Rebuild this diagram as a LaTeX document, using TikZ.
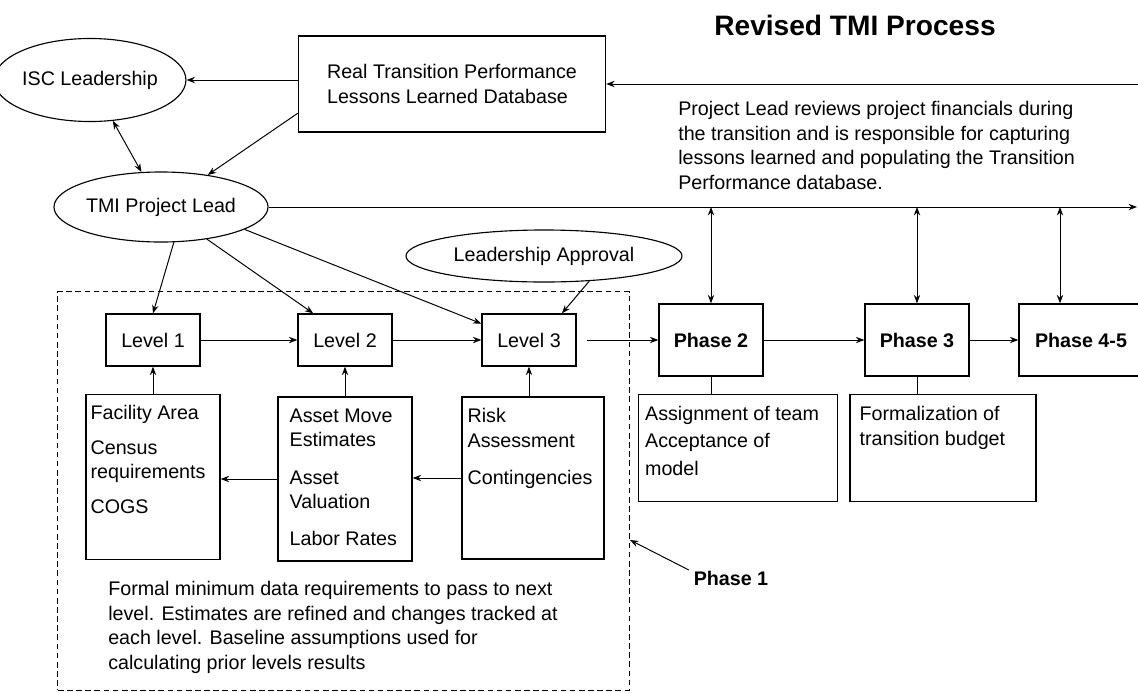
\documentclass[tikz,border=0pt]{standalone}
\usepackage{fontspec}
\setmainfont{Liberation Sans}
\usepackage{tikz}
\usetikzlibrary{shapes.geometric, arrows.meta, positioning, calc}
\tikzset{
  oval/.style={ellipse, draw, line width=0.8pt, inner sep=0pt},
  levelbox/.style={rectangle, draw, line width=0.9pt,
    minimum width=2.35cm, minimum height=1.3cm},
  phasebox/.style={rectangle, draw, line width=0.9pt,
    minimum width=2.6cm, minimum height=1.8cm,
    font=\fontsize{14}{17.5}\selectfont\bfseries},
  listbox/.style={rectangle, draw, line width=0.9pt},
  listtext/.style={align=left, inner sep=0pt},
  groupbox/.style={rectangle, draw, line width=0.7pt, dash pattern=on 4pt off 2.5pt},
  arrow/.style={-{Stealth[length=6pt,width=4.5pt]}, line width=0.7pt},
  dblarrow/.style={{Stealth[length=6pt,width=4.5pt]}-{Stealth[length=6pt,width=4.5pt]}, line width=0.7pt},
  line/.style={line width=0.7pt}
}

\begin{document}
\begin{tikzpicture}[x=0.025cm, y=-0.025cm, font=\fontsize{14}{17.5}\selectfont]
  \useasboundingbox (0,0) rectangle (1138,692);
  \clip (0,0) rectangle (1138,692);
  \fill[white] (0,0) rectangle (1138,692);

  % Title and note
  \node[font=\fontsize{20}{24}\selectfont\bfseries] (title) at (855,25) {Revised TMI Process};
  \node[listtext, anchor=north west] (note) at (678,101)
    {Project Lead reviews project financials during\\the transition and is responsible for capturing\\lessons learned and populating the Transition\\Performance database.};

  % Top nodes
  \node[oval, minimum width=4.125cm, minimum height=2.075cm] (isc) at (90,80) {ISC Leadership};
  \node[listbox, minimum width=7.675cm, minimum height=2.4cm, align=left] (real) at (452,84)
    {Real Transition Performance\\Lessons Learned Database};
  \node[oval, minimum width=5.35cm, minimum height=1.75cm] (tmi) at (161,207) {TMI Project Lead};
  \node[oval, minimum width=6.9cm, minimum height=1.3cm] (appr) at (544,256) {Leadership Approval};

  % Phase 1 levels
  \node[groupbox, minimum width=14.275cm, minimum height=9.95cm] (p1box) at (343.5,491) {};
  \node[levelbox] (l1) at (153,340) {Level 1};
  \node[levelbox] (l2) at (345,340) {Level 2};
  \node[levelbox] (l3) at (529,340) {Level 3};

  \node[listbox, minimum width=3.35cm, minimum height=4.125cm] (fac) at (153,477) {};
  \node[listbox, minimum width=3.35cm, minimum height=4.1cm] (asset) at (345,479) {};
  \node[listbox, minimum width=3.55cm, minimum height=4.05cm] (risk) at (533,478) {};
  \node[listtext, below right=0.28cm and 0.125cm of fac.north west] (factxt)
    {Facility Area\\[7pt]Census\\requirements\\[7pt]COGS};
  \node[listtext, below right=0.3cm and 0.3cm of asset.north west] (assettxt)
    {Asset Move\\Estimates\\[9pt]Asset\\Valuation\\[9pt]Labor Rates};
  \node[listtext, below right=0.3cm and 0.15cm of risk.north west] (risktxt)
    {Risk\\Assessment\\[9pt]Contingencies};

  \node[listtext, anchor=north west] (reqtxt) at (108,581)
    {Formal minimum data requirements to pass to next\\level.  Estimates are refined and changes tracked at\\each level.  Baseline assumptions used for\\calculating prior levels results};
  \node[font=\fontsize{14}{17.5}\selectfont\bfseries] (ph1) at (731,578) {Phase 1};
  \coordinate (p1tip) at (630,540);

  % Later phases
  \node[phasebox] (ph2) at (711,340) {Phase 2};
  \node[phasebox] (ph3) at (917,340) {Phase 3};
  \node[phasebox, minimum width=3.1cm] (ph45) at (1081,340) {Phase 4-5};
  \node[listbox, minimum width=4.975cm, minimum height=2.675cm] (assign) at (738,448) {};
  \node[listbox, minimum width=4.65cm, minimum height=2.675cm] (formal) at (943,448) {};
  \node[listtext, below right=0.3cm and 0.175cm of assign.north west] (assigntxt)
    {Assignment of team\\[2pt]Acceptance of\\[2pt]model};
  \node[listtext, below right=0.3cm and 0.25cm of formal.north west] (formaltxt)
    {Formalization of\\transition budget};

  \coordinate (rin) at (1140,84);
  \coordinate (tout) at (1137,207);
  \coordinate (t45) at (1060,207);

  % Paths
  \draw[arrow] (rin) -- (real.east);
  \draw[arrow] (real.west |- isc.east) -- (isc.east);
  \draw[dblarrow] (isc) -- (tmi);
  \draw[arrow] ($(real.south west)!0.4!(real.west)$) -- (tmi);
  \draw[arrow] (tmi.east) -- (tout);
  \draw[arrow] (tmi.-70) -- (l1.north);
  \draw[arrow] (tmi.-35) -- (l2.140);
  \draw[arrow] (tmi.-15) -- (l3.161);
  \draw[arrow] (appr.-29) -- (l3.39);

  \draw[arrow] (l1) -- (l2);
  \draw[arrow] (l2) -- (l3);
  \draw[arrow] ([xshift=0.25cm]l3.east) -- (ph2.west);
  \draw[arrow] (fac.north) -- (l1.south);
  \draw[arrow] (asset.north) -- (l2.south);
  \draw[arrow] (l3.south |- risk.north) -- (l3.south);
  \draw[arrow] (asset.west) -- (asset.west -| fac.east);
  \draw[arrow] (risk.west) -- (risk.west -| asset.east);
  \draw[arrow] ([yshift=0.2cm]ph1.west) -- (p1tip);

  \draw[arrow] (ph2) -- (ph3);
  \draw[arrow] (ph3) -- (ph45);
  \draw[dblarrow] (ph2.north |- tout) -- (ph2.north);
  \draw[dblarrow] (ph3.north |- tout) -- (ph3.north);
  \draw[dblarrow] (t45) -- (t45 |- ph45.north);
  \draw[line] (ph2.south) -- (ph2.south |- assign.north);
  \draw[line] (ph3.south) -- (ph3.south |- formal.north);
\end{tikzpicture}
\end{document}
